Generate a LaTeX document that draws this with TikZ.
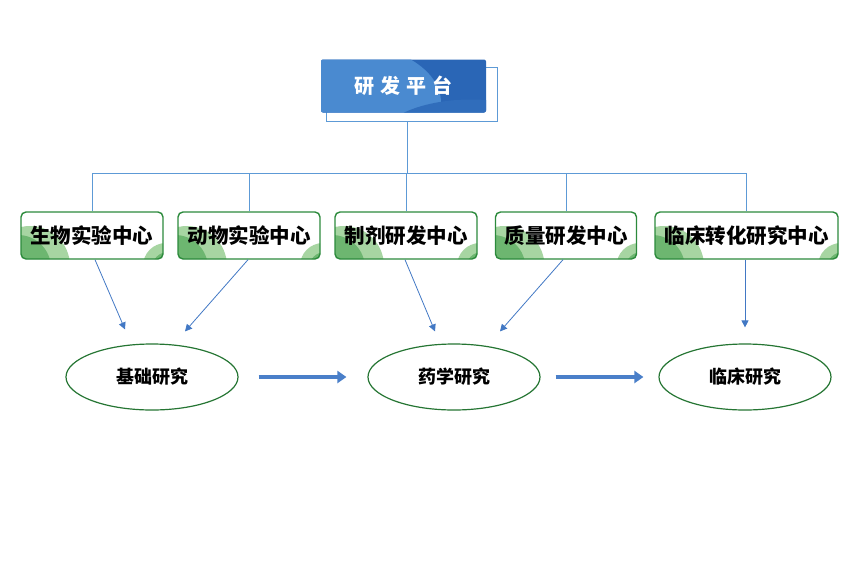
\documentclass[tikz,border=0pt]{standalone}
\usepackage{fontspec}
\newfontfamily\cjk{Noto Sans CJK SC}
\usetikzlibrary{arrows.meta,shapes.geometric}
\definecolor{boxgreen}{HTML}{2C8A3C}
\definecolor{leafgreen}{HTML}{A7D5A2}
\definecolor{darkleaf}{HTML}{6DB670}
\definecolor{linkblue}{HTML}{5D9AD6}
\definecolor{tipblue}{HTML}{3B6FC0}
\definecolor{topblue}{HTML}{2A66B6}
\definecolor{topblueL}{HTML}{4A8AD0}
\definecolor{flowblue}{HTML}{4A7FC9}
\begin{document}
\begin{tikzpicture}[x=1pt,y=-1pt,>={Triangle[length=7pt,width=7pt]},
        centre/.style={draw=boxgreen,line width=1.4pt,rounded corners=5pt,fill=white,
            minimum height=47pt,inner sep=0pt,font=\cjk\bfseries\fontsize{20.5}{20.5}\selectfont,
            path picture={
                \fill[leafgreen]([xshift=9pt,yshift=-7pt]path picture bounding box.south west)circle(40pt);
                \fill[darkleaf]([xshift=-3pt,yshift=-9pt]path picture bounding box.south west)circle(33pt);
                \fill[leafgreen]([xshift=3pt,yshift=-7pt]path picture bounding box.south east)circle(23pt);
                \fill[darkleaf]([xshift=5pt,yshift=-9pt]path picture bounding box.south east)circle(16pt);
            }},
        study/.style={ellipse,draw=boxgreen!85!black,line width=1.2pt,minimum width=172pt,
            minimum height=66pt,inner sep=0pt,font=\cjk\bfseries\fontsize{18}{18}\selectfont},
        link/.style={draw=linkblue,line width=0.8pt},
        feed/.style={draw=tipblue!80!linkblue,line width=0.8pt,->,>={Triangle[length=7pt,width=7pt]}},
        flow/.style={draw=flowblue,line width=4pt,-{Triangle[length=9pt,width=12pt]}}]
        \useasboundingbox(0,0)rectangle(851,560);
        % platform box
        \node[draw=linkblue,line width=0.9pt,minimum width=171pt,minimum height=54pt,inner sep=0pt](topbg)at(411.5,94){};
        \node[fill=topblue,rounded corners=2pt,minimum width=165pt,minimum height=53pt,inner sep=0pt,
            text=white,font=\cjk\bfseries\fontsize{20}{20}\selectfont,
            path picture={
                \fill[topblueL]([xshift=20pt,yshift=10pt]path picture bounding box.south west)ellipse(100pt and 60pt);
                \fill[topblue!80!topblueL]([xshift=-15pt,yshift=-32pt]path picture bounding box.south east)ellipse(95pt and 45pt);
            }](top)at(403.5,86){研\hspace{6pt}发\hspace{6pt}平\hspace{6pt}台};
        % centres
        \node[centre,minimum width=142pt](c1)at(92,235.5){生物实验中心};
        \node[centre,minimum width=142pt](c2)at(249,235.5){动物实验中心};
        \node[centre,minimum width=142pt](c3)at(406,235.5){制剂研发中心};
        \node[centre,minimum width=141pt](c4)at(566,235.5){质量研发中心};
        \node[centre,minimum width=183pt](c5)at(746.5,235.5){临床转化研究中心};
        % studies
        \node[study](e1)at(152,377){基础研究};
        \node[study](e2)at(454,377){药学研究};
        \node[study](e3)at(745,377){临床研究};
        % tree
        \coordinate(bus)at(407,173);
        \draw[link](bus|-topbg.south)--(bus);
        \foreach \c in {c1,c2,c3,c4,c5}
            {
                \draw[link](bus)-|(\c.north);
            }
        % feeds
        \draw[feed]([xshift=3pt]c1.south)--([xshift=-27pt,yshift=14pt]e1.north);
        \draw[feed]([xshift=-1pt]c2.south)--([xshift=33pt,yshift=12pt]e1.north);
        \draw[feed]([xshift=-1pt]c3.south)--([xshift=-19pt,yshift=12pt]e2.north);
        \draw[feed]([xshift=-3pt]c4.south)--([xshift=46pt,yshift=12pt]e2.north);
        \draw[feed]([xshift=-1.5pt]c5.south)--([yshift=16pt]e3.north);
        % flow
        \draw[flow,shorten <=20pt,shorten >=21pt](e1.east)--(e2.west);
        \draw[flow,shorten <=15pt,shorten >=15pt](e2.east)--(e3.west);
    \end{tikzpicture}
\end{document}
